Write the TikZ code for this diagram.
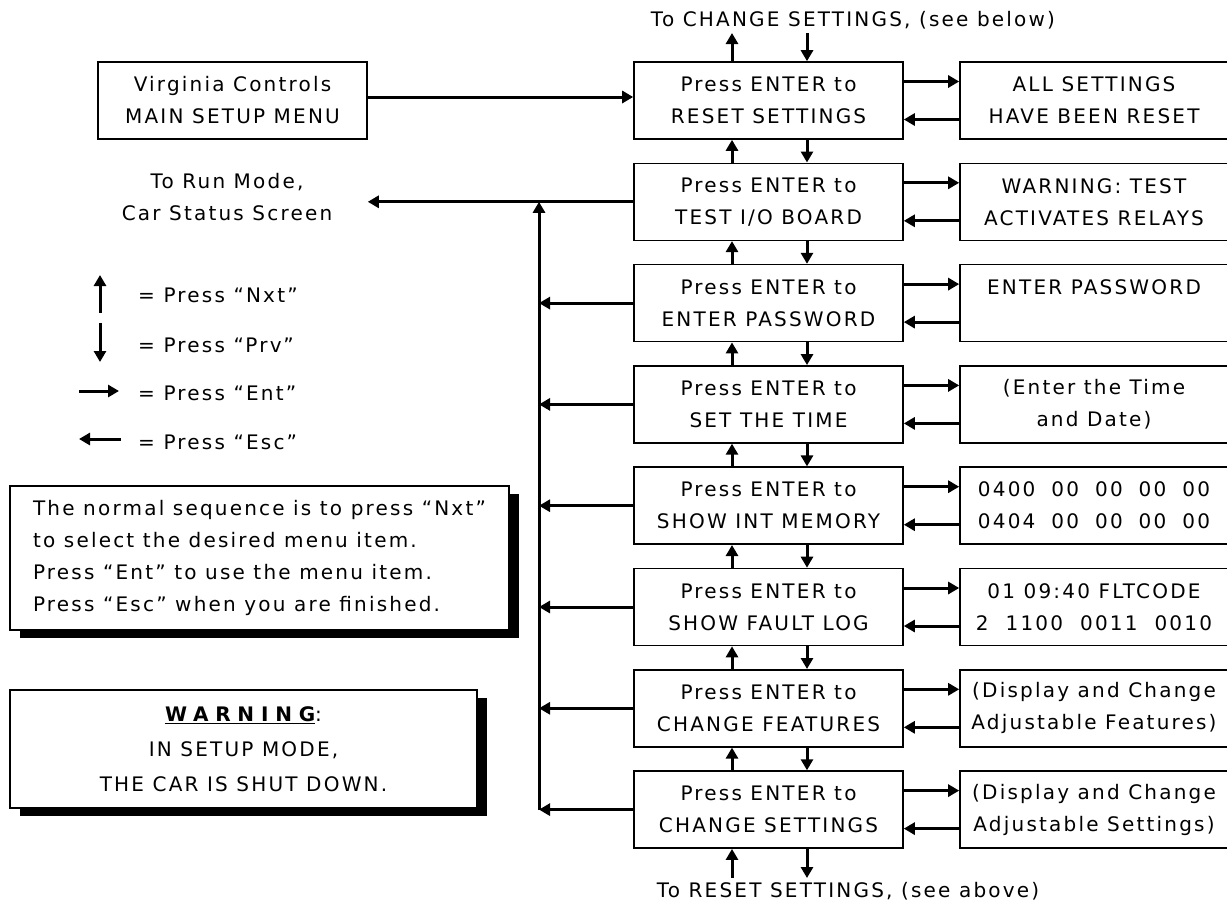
\documentclass[tikz,border=0pt]{standalone}
\usepackage{fontspec}
\setmainfont{DejaVu Sans}[LetterSpace=11]
\usetikzlibrary{arrows.meta,shadows}

\newcommand\numgap{\hspace{0.8em}}
\newcommand\bitgap{\hspace{0.85em}}

\tikzset{
	box/.style={draw, line width=1.6pt, minimum width=269pt, minimum height=77pt, inner sep=0pt, align=center},
	outbox/.style={box, minimum width=268pt},
	arr/.style={line width=3pt, -{Triangle[length=11pt,width=12pt]}},
	shadowbox/.style={draw, line width=1.3pt, fill=white, inner sep=0pt,
		drop shadow={shadow xshift=10pt, shadow yshift=-8pt, fill=black, opacity=1}},
	lbl/.style={inner sep=0pt}
}

\begin{document}
\begin{tikzpicture}[x=1pt, y=-1pt, font=\fontsize{20}{32}\selectfont]
			\useasboundingbox (0,0) rectangle (1227,903);
			\clip (0,0) rectangle (1227,903);

			\def\p{101.3}
			\node[box] (main) at (232.5, 100.5) {Virginia Controls\\MAIN SETUP MENU};

			% menu column
			\node[box] (m1) at (768.5, 100.5) {Press ENTER to\\RESET SETTINGS};
			\node[box] (m2) at (768.5, 100.5+\p) {Press ENTER to\\TEST I/O BOARD};
			\node[box] (m3) at (768.5, 100.5+2*\p) {Press ENTER to\\ENTER PASSWORD};
			\node[box] (m4) at (768.5, 100.5+3*\p) {Press ENTER to\\SET THE TIME};
			\node[box] (m5) at (768.5, 100.5+4*\p) {Press ENTER to\\SHOW INT MEMORY};
			\node[box] (m6) at (768.5, 100.5+5*\p) {Press ENTER to\\SHOW FAULT LOG};
			\node[box] (m7) at (768.5, 100.5+6*\p) {Press ENTER to\\CHANGE FEATURES};
			\node[box] (m8) at (768.5, 100.5+7*\p) {Press ENTER to\\CHANGE SETTINGS};

			% screens
			\node[outbox] (r1) at (1094, 100.5) {ALL SETTINGS\\HAVE BEEN RESET};
			\node[outbox] (r2) at (1094, 100.5+\p) {WARNING: TEST\\ACTIVATES RELAYS};
			\node[outbox] (r3) at (1094, 100.5+2*\p) {ENTER PASSWORD\\\mbox{}};
			\node[outbox] (r4) at (1094, 100.5+3*\p) {(Enter the Time\\and Date)};
			\node[outbox] (r5) at (1094, 100.5+4*\p) {0400\numgap 00\numgap 00\numgap 00\numgap 00\\0404\numgap 00\numgap 00\numgap 00\numgap 00};
			\node[outbox] (r6) at (1094, 100.5+5*\p) {01 09:40 FLTCODE\\2\bitgap 1100\bitgap 0011\bitgap 0010};
			\node[outbox] (r7) at (1094, 100.5+6*\p) {(Display and Change\\Adjustable Features)};
			\node[outbox] (r8) at (1094, 100.5+7*\p) {(Display and Change\\Adjustable Settings)};

			\node[lbl] (toplbl) at (853, 20) {To CHANGE SETTINGS, (see below)};
			\node[lbl] (botlbl) at (848, 891) {To RESET SETTINGS, (see above)};
			\node[lbl, align=center] (run) at (227, 197) {To Run Mode,\\Car Status Screen};

			\coordinate (tu) at (732, 33);
			\coordinate (td) at (807, 33);
			\coordinate (bu) at (732, 878);
			\coordinate (bd) at (807, 878);
			\coordinate (bus) at (539, 0);

			\draw[arr] ([yshift=3.5pt]main.east) -- ([yshift=3.5pt]m1.west);

			\foreach \i in {1,...,8} {
				\draw[arr] ([yshift=19pt]m\i.east) -- ([yshift=19pt]r\i.west);
				\draw[arr] ([yshift=-19pt]r\i.west) -- ([yshift=-19pt]m\i.east);
			}
			\foreach \i in {1,...,7} {
				\pgfmathtruncatemacro\j{\i+1}
				\draw[arr] ([xshift=-36.5pt]m\j.north) -- ([xshift=-36.5pt]m\i.south);
				\draw[arr] ([xshift=38.5pt]m\i.south) -- ([xshift=38.5pt]m\j.north);
			}
			\draw[arr] ([xshift=-36.5pt]m1.north) -- (tu);
			\draw[arr] (td) -- ([xshift=38.5pt]m1.north);
			\draw[arr] (bu) -- ([xshift=-36.5pt]m8.south);
			\draw[arr] ([xshift=38.5pt]m8.south) -- (bd);

			% escape bus
			\draw[arr] (m2.west) -- (main.east |- m2.west);
			\draw[arr] (bus |- m8.west) -- (bus |- m2.west);
			\foreach \i in {3,...,8}
				\draw[arr] (m\i.west) -- (bus |- m\i.west);

			% legend
			\node[lbl, anchor=west] (nxt) at (138, 295) {= Press “Nxt”};
			\node[lbl, anchor=west] (prv) at (138, 345) {= Press “Prv”};
			\node[lbl, anchor=west] (ent) at (138, 393) {= Press “Ent”};
			\node[lbl, anchor=west] (esc) at (138, 442) {= Press “Esc”};
			\draw[arr] (100, 313) -- (100, 275);
			\draw[arr] (100, 323) -- (100, 362);
			\draw[arr] (79, 391) -- (119, 391);
			\draw[arr] (121, 439) -- (79, 439);

			\node[shadowbox, minimum width=499pt, minimum height=144pt, align=left] (note) at (259.5, 558)
				{The normal sequence is to press “Nxt”\\to select the desired menu item.\\Press “Ent” to use the menu item.\\Press “Esc” when you are finished.};
			\node[shadowbox, minimum width=467pt, minimum height=118pt, align=center, font=\fontsize{20}{35}\selectfont] (warn) at (243.5, 749)
				{{\bfseries\addfontfeature{LetterSpace=34}\underline{WARNING}}:\\IN SETUP MODE,\\THE CAR IS SHUT DOWN.};

		\end{tikzpicture}
\end{document}
